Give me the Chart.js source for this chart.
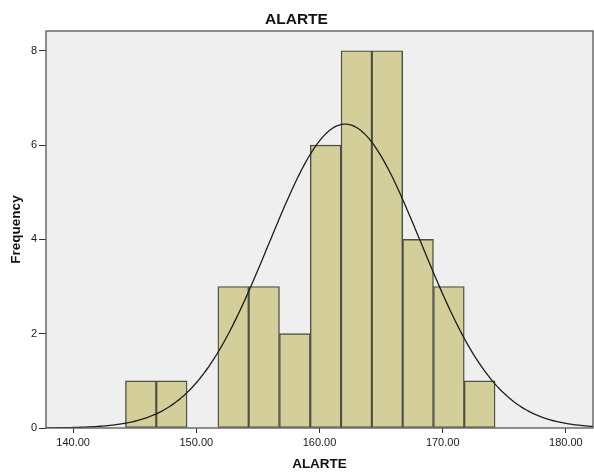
<!DOCTYPE html>
<html>
<head>
<meta charset="utf-8">
<title>ALARTE</title>
<script src="https://cdn.jsdelivr.net/npm/chart.js@4.4.1/dist/chart.umd.min.js"></script>
<style>
  html, body { margin: 0; padding: 0; background: #ffffff; }
  #wrap { width: 594px; height: 474px; position: relative; }
</style>
</head>
<body>
<div id="wrap"><canvas id="histChart"></canvas></div>
<script>
// histogram bins (centre of each 2.5 wide bin) and counts
const binCenters = [145.5, 148.0, 150.5, 153.0, 155.5, 158.0, 160.5, 163.0, 165.5, 168.0, 170.5, 173.0];
const binCounts = [1, 1, 0, 3, 3, 2, 6, 8, 8, 4, 3, 1];
const binWidth = 2.5;

// fitted normal curve parameters
const fitMean = 162.08;
const fitStdDev = 6.19;

const xTicks = [140, 150, 160, 170, 180];
const yTicks = [0, 2, 4, 6, 8];
const xRange = [137.8, 182.2];
const yRange = [0, 8.42];

const FONT = 'Arial, "Liberation Sans", Helvetica, sans-serif';

// normal density scaled to counts (N * bin width)
function normalCurve() {
  const n = binCounts.reduce((a, b) => a + b, 0);
  const pts = [];
  for (let x = xRange[0]; x <= xRange[1] + 1e-9; x += 0.2) {
    const z = (x - fitMean) / fitStdDev;
    const y = n * binWidth * Math.exp(-0.5 * z * z) / (fitStdDev * Math.sqrt(2 * Math.PI));
    pts.push({ x: x, y: y });
  }
  return pts;
}

// grey plot background and frame around the chart area
const plotFrame = {
  id: 'plotFrame',
  beforeDatasetsDraw(chart) {
    const { ctx, chartArea: a } = chart;
    ctx.save();
    ctx.fillStyle = '#efefef';
    ctx.fillRect(a.left, a.top, a.right - a.left, a.bottom - a.top);
    ctx.restore();
  },
  afterDatasetsDraw(chart) {
    const { ctx, chartArea: a } = chart;
    ctx.save();
    ctx.strokeStyle = '#555555';
    ctx.lineWidth = 1.3;
    ctx.strokeRect(a.left, a.top, a.right - a.left, a.bottom - a.top);
    ctx.restore();
  }
};

const barData = binCenters.map((c, i) => ({ x: c, y: binCounts[i] }));

new Chart(document.getElementById('histChart'), {
  type: 'bar',
  data: {
    datasets: [
      {
        type: 'line',
        data: normalCurve(),
        borderColor: '#1e1e1e',
        borderWidth: 1.3,
        pointRadius: 0,
        tension: 0,
        fill: false,
        order: 0
      },
      {
        type: 'bar',
        data: barData,
        backgroundColor: '#d3ce9a',
        borderColor: '#4e4e42',
        borderWidth: 1.4,
        borderSkipped: false,
        barPercentage: 1,
        categoryPercentage: 1,
        grouped: false,
        order: 1
      }
    ]
  },
  options: {
    responsive: true,
    maintainAspectRatio: false,
    animation: false,
    layout: { padding: { top: 0, right: 1, bottom: 0, left: 0 } },
    plugins: {
      legend: { display: false },
      tooltip: { enabled: false },
      title: {
        display: true,
        text: 'ALARTE',
        color: '#111111',
        font: { family: FONT, size: 15.5, weight: 'bold' },
        padding: { top: 10, bottom: 2.4 }
      }
    },
    scales: {
      x: {
        type: 'linear',
        min: xRange[0],
        max: xRange[1],
        offset: false,
        afterBuildTicks: s => { s.ticks = xTicks.map(v => ({ value: v })); },
        afterFit: s => { s.height = 46; },
        ticks: {
          color: '#1a1a1a',
          font: { family: FONT, size: 11 },
          padding: 3,
          maxRotation: 0,
          callback: v => Number(v).toFixed(2)
        },
        grid: { display: true, offset: false, drawOnChartArea: false, drawTicks: true, tickLength: 5, color: '#333333', lineWidth: 1 },
        border: { display: false },
        title: {
          display: true,
          text: 'ALARTE',
          color: '#111111',
          font: { family: FONT, size: 13.5, weight: 'bold' },
          padding: { top: 0, bottom: 1.5 }
        }
      },
      y: {
        min: yRange[0],
        max: yRange[1],
        afterBuildTicks: s => { s.ticks = yTicks.map(v => ({ value: v })); },
        afterFit: s => { s.width = 46; },
        ticks: {
          color: '#1a1a1a',
          font: { family: FONT, size: 11 },
          padding: 2
        },
        grid: { display: true, drawOnChartArea: false, drawTicks: true, tickLength: 7, color: '#333333', lineWidth: 1 },
        border: { display: false },
        title: {
          display: true,
          text: 'Frequency',
          color: '#111111',
          font: { family: FONT, size: 13.5, weight: 'bold' },
          padding: { top: 8, bottom: 0 }
        }
      }
    }
  },
  plugins: [plotFrame]
});
</script>
</body>
</html>
